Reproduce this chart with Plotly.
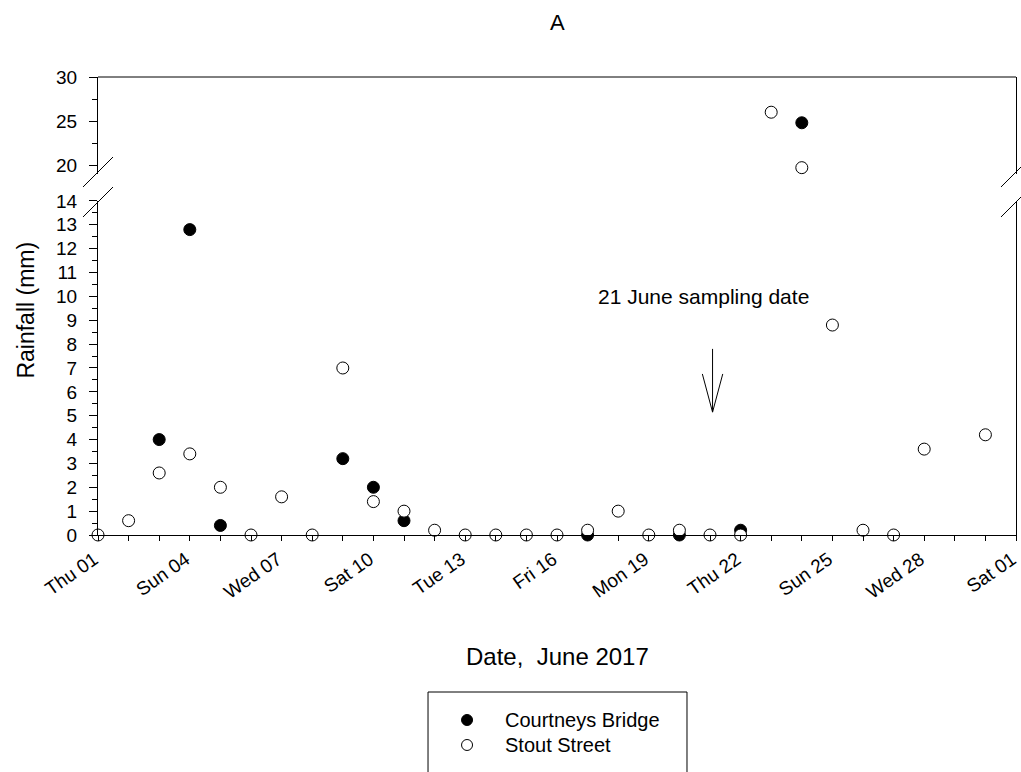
import plotly.graph_objects as go
import pandas as pd

# Daily rainfall, June 2017 (mm)
cb_dates = ["2017-06-03", "2017-06-04", "2017-06-05", "2017-06-09", "2017-06-10",
            "2017-06-11", "2017-06-17", "2017-06-20", "2017-06-22", "2017-06-24"]
cb_rain = [4.0, 12.8, 0.4, 3.2, 2.0, 0.6, 0.0, 0.0, 0.2, 24.8]

ss_dates = ["2017-06-01", "2017-06-02", "2017-06-03", "2017-06-04", "2017-06-05",
            "2017-06-06", "2017-06-07", "2017-06-08", "2017-06-09", "2017-06-10",
            "2017-06-11", "2017-06-12", "2017-06-13", "2017-06-14", "2017-06-15",
            "2017-06-16", "2017-06-17", "2017-06-18", "2017-06-19", "2017-06-20",
            "2017-06-21", "2017-06-22", "2017-06-23", "2017-06-24", "2017-06-25",
            "2017-06-26", "2017-06-27", "2017-06-28", "2017-06-30"]
ss_rain = [0.0, 0.6, 2.6, 3.4, 2.0,
           0.0, 1.6, 0.0, 7.0, 1.4,
           1.0, 0.2, 0.0, 0.0, 0.0,
           0.0, 0.2, 1.0, 0.0, 0.2,
           0.0, 0.0, 26.0, 19.7, 8.8,
           0.2, 0.0, 3.6, 4.2]

# labelled date ticks, every third day
tick_dates = pd.date_range("2017-06-01", "2017-07-01", freq="3D")
tick_labels = [d.strftime("%a %d") for d in tick_dates]

series = [
    ("Courtneys Bridge", cb_dates, cb_rain, "black"),
    ("Stout Street", ss_dates, ss_rain, "white"),
]

LOWER_MAX = 14
lower_range = [0, LOWER_MAX]
upper_range = [19, 30]
lower_dom = [0, 0.7293]
upper_dom = [0.7886, 1]
FONT = "Arial, Liberation Sans, sans-serif"

fig = go.Figure()
for name, dates, vals, fill in series:
    lo = [(d, v) for d, v in zip(dates, vals) if v <= LOWER_MAX]
    hi = [(d, v) for d, v in zip(dates, vals) if v > LOWER_MAX]
    marker = dict(size=12, color=fill, line=dict(color="black", width=1))
    fig.add_trace(go.Scatter(
        x=[d for d, _ in lo], y=[v for _, v in lo], mode="markers", name=name,
        showlegend=False, marker=marker, cliponaxis=False, yaxis="y", xaxis="x"))
    fig.add_trace(go.Scatter(
        x=[d for d, _ in hi], y=[v for _, v in hi], mode="markers", name=name,
        showlegend=False, marker=marker, cliponaxis=False, yaxis="y2", xaxis="x"))

tickfont = dict(family=FONT, size=19, color="black")

fig.update_layout(
    width=1021, height=772,
    margin=dict(l=98, r=5, t=77, b=237, autoexpand=False),
    paper_bgcolor="white", plot_bgcolor="white",
    font=dict(family=FONT, color="black"),
    showlegend=False,
    xaxis=dict(
        type="date", range=["2017-06-01", "2017-07-01"],
        tickmode="array", tickvals=list(tick_dates), ticktext=tick_labels,
        tickangle=-35, tickfont=tickfont, ticklabeloverflow="allow",
        ticklabelshift=-4,
        showline=True, linecolor="black", linewidth=1,
        ticks="outside", ticklen=5, tickcolor="black",
        minor=dict(dtick=86400000, tick0="2017-06-01", ticks="outside", ticklen=5,
                   tickcolor="black", showgrid=False),
        showgrid=False, zeroline=False, anchor="y",
    ),
    yaxis=dict(
        domain=lower_dom, range=lower_range, dtick=1, tick0=0,
        tickfont=tickfont, showline=True, linecolor="black", linewidth=1,
        mirror=True, ticks="outside", ticklen=8, tickcolor="black",
        ticklabelstandoff=8,
        minor=dict(dtick=0.5, ticks="outside", ticklen=5, tickcolor="black",
                   showgrid=False),
        showgrid=False, zeroline=False, anchor="x",
    ),
    yaxis2=dict(
        domain=upper_dom, range=upper_range, tickvals=[20, 25, 30],
        tickfont=tickfont, showline=True, linecolor="black", linewidth=1,
        mirror=True, ticks="outside", ticklen=8, tickcolor="black",
        ticklabelstandoff=8,
        minor=dict(tickvals=[22.5, 27.5], ticks="outside", ticklen=5,
                   tickcolor="black", showgrid=False),
        showgrid=False, zeroline=False, anchor="x",
    ),
)

# Box top edge, axis-break marks, legend frame and sampling-date arrow
line = dict(color="black", width=1)
shapes = [
    dict(type="line", xref="paper", yref="paper", x0=0, x1=1, y0=1, y1=1, line=line),
]
for x0 in (-0.01634, 0.98366):
    for yb in (0.6943, 0.7598):
        shapes.append(dict(type="line", xref="paper", yref="paper",
                           x0=x0, x1=x0 + 0.03268, y0=yb, y1=yb + 0.0655, line=line))
shapes.append(dict(type="rect", xref="paper", yref="paper",
                   x0=0.3595, x1=0.6416, y0=-0.3428, y1=-0.56,
                   line=line, fillcolor="rgba(0,0,0,0)"))
# vertical arrow pointing at 21 June
shapes.append(dict(type="line", xref="x", yref="y", x0="2017-06-21 02:00",
                   x1="2017-06-21 02:00", y0=7.8, y1=5.15, line=line))
for xe in ("2017-06-20 18:00", "2017-06-21 10:00"):
    shapes.append(dict(type="line", xref="x", yref="y", x0=xe, x1="2017-06-21 02:00",
                       y0=6.75, y1=5.15, line=line))

# legend: symbol + label rows
legend_rows = [(-0.4039, "black", "Courtneys Bridge"), (-0.4585, "white", "Stout Street")]
for ly, fill, label in legend_rows:
    shapes.append(dict(type="circle", xref="paper", yref="paper",
                       xsizemode="pixel", ysizemode="pixel", xanchor=0.402, yanchor=ly,
                       x0=-5.5, x1=5.5, y0=-5.5, y1=5.5,
                       fillcolor=fill, line=dict(color="black", width=1)))
    fig.add_annotation(text=label, xref="paper", yref="paper", x=0.4412, y=ly,
                       xanchor="left", yanchor="middle", showarrow=False,
                       font=dict(family=FONT, size=20, color="black"))
fig.update_layout(shapes=shapes)

fig.add_annotation(text="21 June sampling date", xref="x", yref="y",
                   x="2017-06-20 19:00", y=10.0, showarrow=False,
                   font=dict(family=FONT, size=21, color="black"))
fig.add_annotation(text="A", xref="paper", yref="paper", x=0.5, y=1.12,
                   xanchor="center", yanchor="middle", showarrow=False,
                   font=dict(family=FONT, size=22, color="black"))
fig.add_annotation(text="Date,  June 2017", xref="paper", yref="paper", x=0.5,
                   y=-0.2642, xanchor="center", yanchor="middle", showarrow=False,
                   font=dict(family=FONT, size=24, color="black"))
fig.add_annotation(text="Rainfall (mm)", xref="paper", yref="paper", x=-0.0784,
                   y=0.49, textangle=-90, xanchor="center", yanchor="middle",
                   showarrow=False, font=dict(family=FONT, size=23, color="black"))

fig.write_html("out.html")
